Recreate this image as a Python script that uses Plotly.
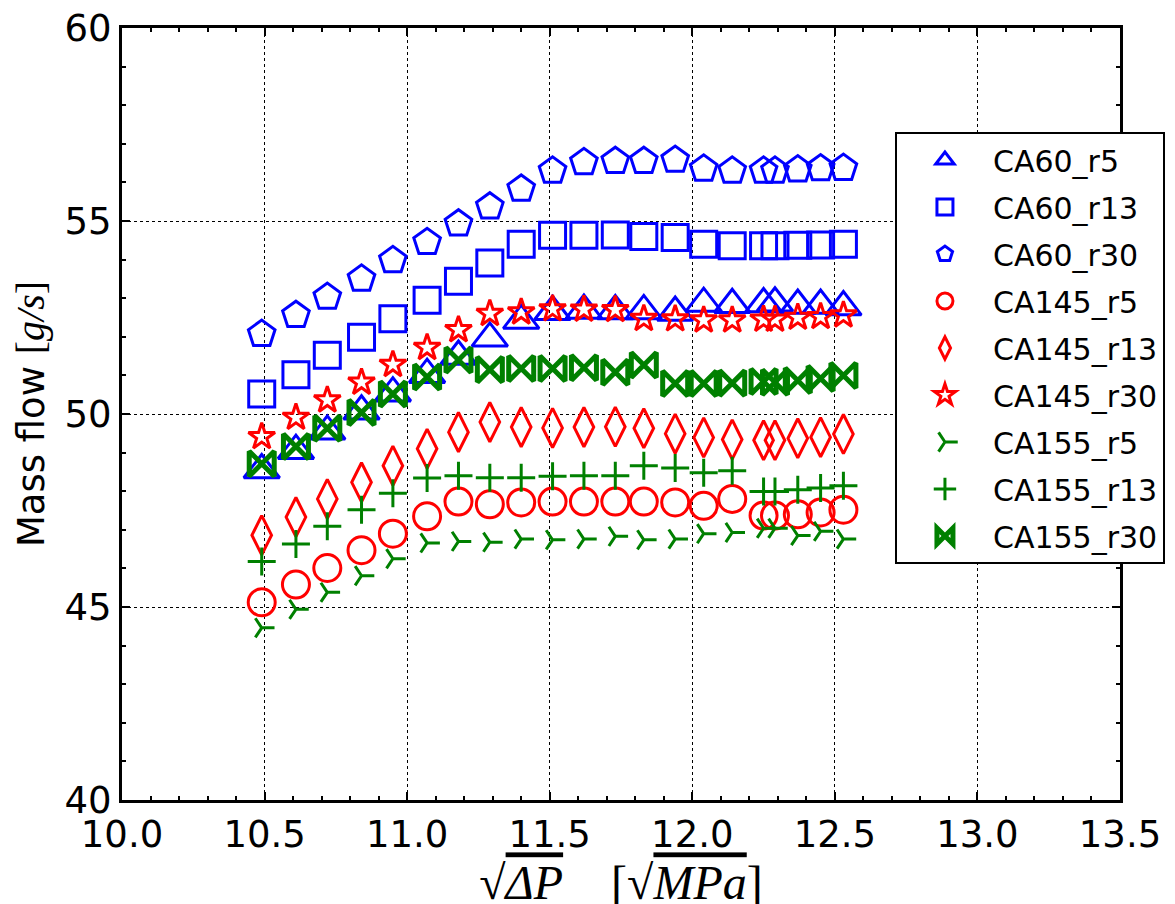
import plotly.graph_objects as go

# sqrt(dP) values [sqrt(MPa)]
x_vals = [10.49, 10.61, 10.72, 10.84, 10.95, 11.07, 11.18, 11.29, 11.40, 11.51,
          11.62, 11.73, 11.83, 11.94, 12.04, 12.14, 12.25, 12.29, 12.37, 12.45, 12.53]

series_names = ["CA60_r5", "CA60_r13", "CA60_r30",
                "CA145_r5", "CA145_r13", "CA145_r30",
                "CA155_r5", "CA155_r13", "CA155_r30"]

ca60_r5 = [48.55, 49.05, 49.55, 50.07, 50.54, 51.02, 51.49, 51.96, 52.42, 52.65,
           52.68, 52.67, 52.67, 52.63, 52.86, 52.83, 52.85, 52.87, 52.81, 52.81, 52.77]
ca60_r13 = [50.52, 51.02, 51.52, 51.99, 52.47, 52.95, 53.44, 53.91, 54.40, 54.63,
            54.63, 54.64, 54.60, 54.57, 54.40, 54.36, 54.36, 54.36, 54.37, 54.38, 54.40]
ca60_r30 = [52.07, 52.56, 53.03, 53.50, 53.98, 54.45, 54.93, 55.37, 55.83, 56.30,
            56.52, 56.55, 56.55, 56.58, 56.35, 56.30, 56.30, 56.30, 56.33, 56.36, 56.37]
ca145_r5 = [45.12, 45.58, 46.01, 46.47, 46.90, 47.35, 47.73, 47.66, 47.71, 47.73,
            47.73, 47.73, 47.73, 47.71, 47.62, 47.80, 47.37, 47.37, 47.40, 47.45, 47.52]
ca145_r13 = [46.86, 47.33, 47.80, 48.23, 48.66, 49.10, 49.53, 49.79, 49.66, 49.64,
             49.66, 49.67, 49.63, 49.49, 49.39, 49.34, 49.32, 49.32, 49.37, 49.40, 49.48]
ca145_r30 = [49.41, 49.91, 50.36, 50.82, 51.28, 51.72, 52.18, 52.60, 52.64, 52.72,
             52.71, 52.70, 52.47, 52.46, 52.43, 52.43, 52.45, 52.45, 52.50, 52.52, 52.56]
ca155_r5 = [44.46, 44.94, 45.38, 45.81, 46.25, 46.66, 46.70, 46.68, 46.76, 46.74,
            46.76, 46.83, 46.74, 46.76, 46.90, 46.93, 47.04, 47.04, 46.85, 46.96, 46.76]
ca155_r13 = [46.18, 46.63, 47.09, 47.52, 47.95, 48.34, 48.40, 48.35, 48.35, 48.39,
             48.40, 48.40, 48.66, 48.60, 48.48, 48.53, 47.99, 47.99, 48.04, 48.08, 48.14]
ca155_r30 = [48.71, 49.16, 49.63, 50.04, 50.52, 50.96, 51.40, 51.15, 51.18, 51.18,
             51.20, 51.08, 51.27, 50.79, 50.79, 50.80, 50.84, 50.82, 50.87, 50.92, 51.00]

series_values = [ca60_r5, ca60_r13, ca60_r30, ca145_r5, ca145_r13, ca145_r30,
                 ca155_r5, ca155_r13, ca155_r30]

x_ticks = [10.0, 10.5, 11.0, 11.5, 12.0, 12.5, 13.0, 13.5]
y_ticks = [40, 45, 50, 55, 60]

BLUE, RED, GREEN = "#0000ff", "#ff0000", "#008000"
styles = [
    ("triangle-up-open", BLUE, 31, 3),
    ("square-open", BLUE, 26, 3),
    ("pentagon-open", BLUE, 28, 3),
    ("circle-open", RED, 27, 3),
    ("diamond-tall-open", RED, 28, 3),
    ("star-open", RED, 20, 3),
    ("y-right-open", GREEN, 16, 3),
    ("cross-thin-open", GREEN, 20, 3),
    ("bowtie-open", GREEN, 25, 5),
]

fig = go.Figure()
for i, (name, vals) in enumerate(zip(series_names, series_values)):
    sym, col, size, lw = styles[i]
    fig.add_trace(go.Scatter(
        x=x_vals, y=vals, mode="markers", name=name, legendgroup=name,
        marker=dict(symbol=sym, size=size, color=col,
                    line=dict(width=lw, color=col)),
    ))

axis_common = dict(
    showline=True, linewidth=3, linecolor="black", mirror="ticks",
    ticks="inside", ticklen=8, tickwidth=1.5, tickcolor="black",
    showgrid=True, gridcolor="black", griddash="dot", gridwidth=1,
    zeroline=False, ticklabeloverflow="allow",
    tickfont=dict(family="DejaVu Sans", size=37, color="black"),
)

fig.update_xaxes(
    range=[10.0, 13.5], tickmode="array", tickvals=x_ticks,
    ticktext=[f"{v:.1f}" for v in x_ticks],
    minor=dict(ticks="inside", dtick=0.1, tick0=10.0, ticklen=4,
               tickcolor="black", tickwidth=1.5, showgrid=False),
    title=dict(
        text="√<span style='text-decoration:overline'><i>ΔP</i></span>"
             "    [√<span style='text-decoration:overline'><i>MPa</i></span>]",
        font=dict(family="Liberation Serif", size=48, color="black"),
        standoff=4),
    **axis_common)

fig.update_yaxes(
    range=[40, 60], tickmode="array", tickvals=y_ticks,
    ticktext=[str(v) for v in y_ticks],
    minor=dict(ticks="inside", dtick=1, tick0=40, ticklen=4,
               tickcolor="black", tickwidth=1.5, showgrid=False),
    title=dict(
        text="Mass flow <span style='font-family:Liberation Serif;font-size:40px'>[<i>g/s</i>]</span>",
        font=dict(family="DejaVu Sans", size=37, color="black"),
        standoff=18),
    **axis_common)

fig.update_layout(
    width=1175, height=904,
    margin=dict(l=114, r=63, t=20, b=112, autoexpand=False),
    paper_bgcolor="white", plot_bgcolor="white",
    showlegend=True,
    legend=dict(
        x=0.7745, y=0.8653, xanchor="left", yanchor="top",
        bgcolor="white", bordercolor="black", borderwidth=2,
        font=dict(family="DejaVu Sans", size=30, color="black"),
        itemwidth=86, tracegroupgap=5, traceorder="grouped",
    ),
)

fig.write_html("out.html")
